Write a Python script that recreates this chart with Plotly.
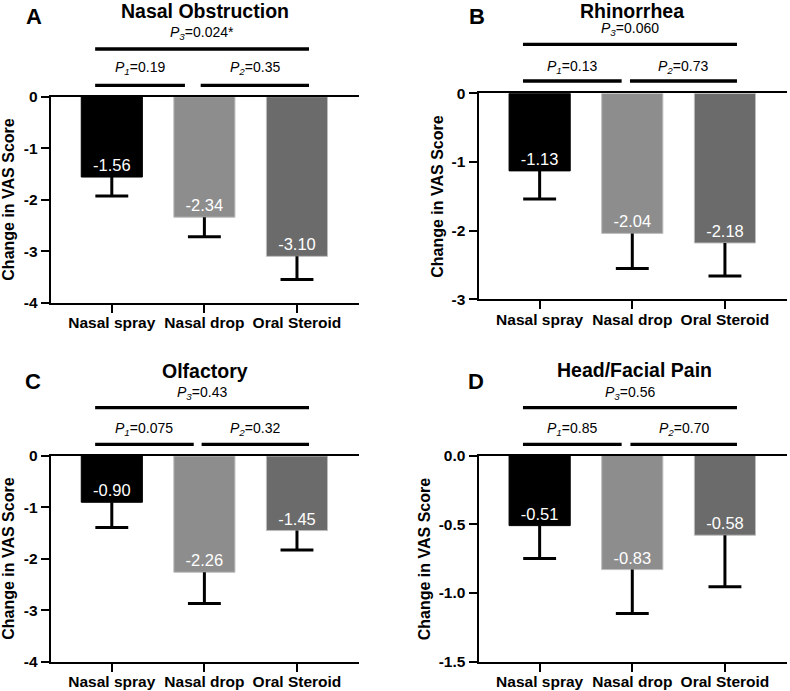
import plotly.graph_objects as go

W, H = 790, 691

categories = ["Nasal spray", "Nasal drop", "Oral Steroid"]
bar_colors = ["#000000", "#8d8d8d", "#6b6b6b"]
edge_colors = ["#000000", "#bdbdbd", "#bdbdbd"]

titles = ["Nasal Obstruction", "Rhinorrhea", "Olfactory", "Head/Facial Pain"]
letters = ["A", "B", "C", "D"]

means_a = [-1.56, -2.34, -3.10]
sem_a = [0.37, 0.38, 0.45]
means_b = [-1.13, -2.04, -2.18]
sem_b = [0.41, 0.51, 0.48]
means_c = [-0.90, -2.26, -1.45]
sem_c = [0.49, 0.61, 0.38]
means_d = [-0.51, -0.83, -0.58]
sem_d = [0.24, 0.32, 0.375]

p1_labels = ["0.19", "0.13", "0.075", "0.85"]
p2_labels = ["0.35", "0.73", "0.32", "0.70"]
p3_labels = ["0.024*", "0.060", "0.43", "0.56"]

yticks_a = [0, -1, -2, -3, -4]
yticks_b = [0, -1, -2, -3]
yticks_c = [0, -1, -2, -3, -4]
yticks_d = [0.0, -0.5, -1.0, -1.5]
ytick_text_a = ["0", "-1", "-2", "-3", "-4"]
ytick_text_b = ["0", "-1", "-2", "-3"]
ytick_text_c = ["0", "-1", "-2", "-3", "-4"]
ytick_text_d = ["0.0", "-0.5", "-1.0", "-1.5"]

panels = [
    dict(m=means_a, e=sem_a, yt=yticks_a, ytt=ytick_text_a, ymin=-4),
    dict(m=means_b, e=sem_b, yt=yticks_b, ytt=ytick_text_b, ymin=-3),
    dict(m=means_c, e=sem_c, yt=yticks_c, ytt=ytick_text_c, ymin=-4),
    dict(m=means_d, e=sem_d, yt=yticks_d, ytt=ytick_text_d, ymin=-1.5),
]

# layout geometry in pixels: (x_left, x_right, y_top, y_bottom)
geom = [
    (50.7, 359.0, 96.7, 302.7),
    (478.5, 787.0, 93.3, 299.3),
    (50.7, 359.0, 456.0, 661.7),
    (478.5, 787.0, 455.5, 661.7),
]
XR = [-0.66, 2.67]
# bracket definitions (data x) and pixel y
brackets = [
    dict(p3=(-0.18, 2.13), p1=(-0.18, 0.79), p2=(0.96, 2.13), y3=49.0, y12=85.3),
    dict(p3=(-0.18, 2.13), p1=(-0.18, 0.885), p2=(0.975, 2.13), y3=44.3, y12=81.0),
    dict(p3=(-0.18, 2.13), p1=(-0.18, 0.885), p2=(0.97, 2.13), y3=407.7, y12=444.3),
    dict(p3=(-0.18, 2.13), p1=(-0.18, 0.885), p2=(0.98, 2.13), y3=407.7, y12=444.3),
]
text_pos = [
    dict(title=(205, 11), letter=(34, 17), p3y=31, p12y=66.7, ytitle_x=9),
    dict(title=(632, 11), letter=(477, 16.7), p3y=28, p12y=65, ytitle_x=437.5),
    dict(title=(205, 371.3), letter=(33, 381), p3y=391, p12y=427.5, ytitle_x=9),
    dict(title=(634, 370), letter=(476, 381), p3y=391, p12y=428, ytitle_x=424.7),
]

FONT = "Liberation Sans, Arial, sans-serif"


def px_x(px):
    return px / W


def px_y(py):
    return 1 - py / H


fig = go.Figure()
shapes = []
annotations = []

for i, p in enumerate(panels):
    xl, xr, yt, yb = geom[i]
    xa = "x" if i == 0 else f"x{i+1}"
    ya = "y" if i == 0 else f"y{i+1}"
    xkey = "xaxis" if i == 0 else f"xaxis{i+1}"
    ykey = "yaxis" if i == 0 else f"yaxis{i+1}"

    fig.add_trace(go.Bar(
        x=categories, y=p["m"], xaxis=xa, yaxis=ya,
        width=0.66,
        marker=dict(color=bar_colors, line=dict(color=edge_colors, width=1)),
        text=[f"{v:.2f}" for v in p["m"]],
        textposition="inside", insidetextanchor="end",
        textfont=dict(family=FONT, size=16.5, color="white"),
        textangle=0,
        error_y=dict(type="data", symmetric=False, array=[0] * 3, arrayminus=p["e"],
                     width=0, thickness=3, color="black"),
        showlegend=False, hoverinfo="skip",
    ))
    # error-bar caps at the lower end
    fig.add_trace(go.Scatter(
        x=categories, y=[m - e for m, e in zip(p["m"], p["e"])], xaxis=xa, yaxis=ya,
        mode="markers",
        marker=dict(symbol="line-ew", size=23.5, line=dict(color="black", width=3)),
        showlegend=False, hoverinfo="skip", cliponaxis=False,
    ))

    fig.update_layout(**{
        xkey: dict(domain=[px_x(xl), px_x(xr)], range=XR, anchor=ya, automargin=False,
                   showline=True, linecolor="black", linewidth=2, mirror=True,
                   ticks="outside", ticklen=8, tickwidth=2, tickcolor="black",
                   ticklabelstandoff=-3,
                   tickfont=dict(family=FONT, size=15.5, color="black", weight="bold"),
                   showgrid=False, zeroline=False, fixedrange=True),
        ykey: dict(domain=[px_y(yb), px_y(yt)], range=[p["ymin"], 0], anchor=xa, automargin=False,
                   showline=True, linecolor="black", linewidth=2,
                   ticks="outside", ticklen=8, tickwidth=2, tickcolor="black",
                   tickvals=p["yt"], ticktext=p["ytt"],
                   tickfont=dict(family=FONT, size=15.5, color="black", weight="bold"),
                   showgrid=False, zeroline=False, fixedrange=True),
    })

    def dx(d):
        return px_x(xl + (d - XR[0]) / (XR[1] - XR[0]) * (xr - xl))

    b = brackets[i]
    for key, yy in (("p3", b["y3"]), ("p1", b["y12"]), ("p2", b["y12"])):
        x0, x1 = b[key]
        shapes.append(dict(type="line", xref="paper", yref="paper",
                           x0=dx(x0), x1=dx(x1), y0=px_y(yy), y1=px_y(yy),
                           line=dict(color="black", width=3.3)))
    tp = text_pos[i]
    annotations.append(dict(text=titles[i], x=px_x(tp["title"][0]), y=px_y(tp["title"][1]),
                            xref="paper", yref="paper", showarrow=False,
                            xanchor="center", yanchor="middle",
                            font=dict(family=FONT, size=19.5, color="black", weight="bold")))
    annotations.append(dict(text=letters[i], x=px_x(tp["letter"][0]), y=px_y(tp["letter"][1]),
                            xref="paper", yref="paper", showarrow=False,
                            xanchor="center", yanchor="middle",
                            font=dict(family=FONT, size=22, color="black", weight="bold")))
    for key, lab, sub, yy in (("p3", p3_labels[i], "3", tp["p3y"]),
                              ("p1", p1_labels[i], "1", tp["p12y"]),
                              ("p2", p2_labels[i], "2", tp["p12y"])):
        x0, x1 = b[key]
        annotations.append(dict(text=f"<i>P<sub>{sub}</sub></i>={lab}",
                                x=dx((x0 + x1) / 2), y=px_y(yy + 1.5),
                                xref="paper", yref="paper", showarrow=False,
                                xanchor="center", yanchor="middle",
                                font=dict(family=FONT, size=14, color="black")))
    annotations.append(dict(text="Change in VAS Score", textangle=-90,
                            x=px_x(tp["ytitle_x"]), y=px_y((yt + yb) / 2),
                            xref="paper", yref="paper", showarrow=False,
                            xanchor="center", yanchor="middle",
                            font=dict(family=FONT, size=16, color="black", weight="bold")))

fig.update_layout(
    width=W, height=H, autosize=False,
    margin=dict(l=0, r=0, t=0, b=0, pad=0, autoexpand=False),
    paper_bgcolor="white", plot_bgcolor="white",
    font=dict(family=FONT, color="black"),
    shapes=shapes, annotations=annotations,
    bargap=0.34,
)

fig.write_html("out.html", config={"displayModeBar": False},
               post_script="document.body.style.margin='0';document.body.style.overflow='hidden';")
